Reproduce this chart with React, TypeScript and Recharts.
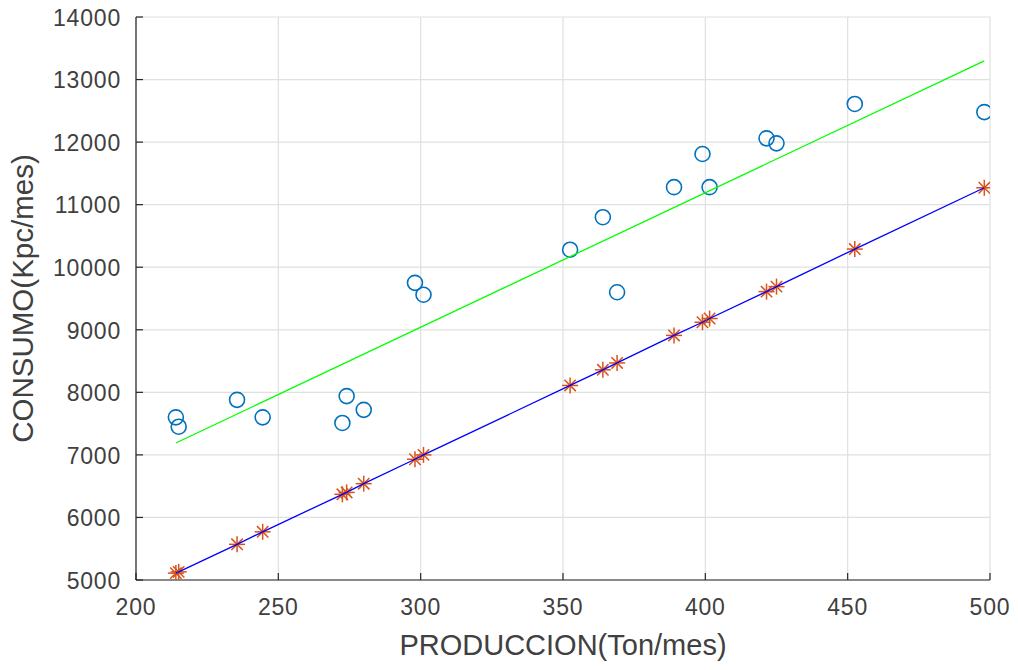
import React from 'react';
import { ScatterChart, Scatter, XAxis, YAxis, CartesianGrid } from 'recharts';

// produccion (Ton/mes) de cada observacion
const produccion = [214, 215, 235.5, 244.5, 272.5, 274, 280, 298, 301, 352.5, 364, 369, 389, 399, 401.5, 421.5, 425, 452.5, 498];
// consumo medido (circulos)
const consumo = [7600, 7450, 7880, 7600, 7510, 7940, 7720, 9750, 9560, 10280, 10800, 9600, 11280, 11810, 11280, 12060, 11980, 12610, 12480];
// consumo estimado (asteriscos, sobre la linea azul)
const consumoEstimado = [5110, 5130, 5570, 5770, 6370, 6400, 6540, 6930, 7000, 8110, 8360, 8470, 8910, 9120, 9180, 9610, 9690, 10290, 11270];
// recta verde (extremos)
const rectaX = [214, 498];
const rectaY = [7190, 13300];

const xTicks = [200, 250, 300, 350, 400, 450, 500];
const yTicks = [5000, 6000, 7000, 8000, 9000, 10000, 11000, 12000, 13000, 14000];

const medidos = produccion.map((x, i) => ({ x, y: consumo[i] }));
const estimados = produccion.map((x, i) => ({ x, y: consumoEstimado[i] }));
const recta = rectaX.map((x, i) => ({ x, y: rectaY[i] }));

const AXIS = '#262626';
const TEXT = '#404040';
const FONT = 'Liberation Sans, Arial, sans-serif';
const TICK_LEN = 7;
const X_MARGIN = 19;
const Y_MARGIN = 15;

const BottomTick = (props: any) => {
  const { x, y, payload } = props;
  return (
    <g>
      <line x1={x} x2={x} y1={y - X_MARGIN} y2={y - X_MARGIN - TICK_LEN} stroke={AXIS} strokeWidth={1.2} />
      <text x={x} y={y} dy="0.71em" textAnchor="middle" fill={TEXT} fontSize={23} fontFamily={FONT} letterSpacing={0.8}>
        {payload.value}
      </text>
    </g>
  );
};

const LeftTick = (props: any) => {
  const { x, y, payload } = props;
  return (
    <g>
      <line x1={x + Y_MARGIN} x2={x + Y_MARGIN + TICK_LEN} y1={y} y2={y} stroke={AXIS} strokeWidth={1.2} />
      <text x={x} y={y} dy="0.38em" textAnchor="end" fill={TEXT} fontSize={23} fontFamily={FONT} letterSpacing={0.8}>
        {payload.value}
      </text>
    </g>
  );
};

const TopTick = (props: any) => {
  const { x, y } = props;
  return <line x1={x} x2={x} y1={y} y2={y + TICK_LEN} stroke={AXIS} strokeWidth={1.2} />;
};

const RightTick = (props: any) => {
  const { x, y } = props;
  return <line x1={x} x2={x - TICK_LEN} y1={y} y2={y} stroke={AXIS} strokeWidth={1.2} />;
};

const Circulo = (props: any) => {
  const { cx, cy } = props;
  return <circle cx={cx} cy={cy} r={7.5} fill="none" stroke="#0072BD" strokeWidth={1.6} />;
};

const Asterisco = (props: any) => {
  const { cx, cy } = props;
  const r = 8;
  const d = 5.7;
  return (
    <g stroke="#D95319" strokeWidth={1.5}>
      <line x1={cx - r} x2={cx + r} y1={cy} y2={cy} />
      <line x1={cx} x2={cx} y1={cy - r} y2={cy + r} />
      <line x1={cx - d} x2={cx + d} y1={cy - d} y2={cy + d} />
      <line x1={cx - d} x2={cx + d} y1={cy + d} y2={cy - d} />
    </g>
  );
};

const Nada = () => <g />;

export default function App() {
  return (
    <div style={{ position: 'absolute', left: 0, top: 0, width: 1018, height: 670, background: '#fff' }}>
      <ScatterChart width={1018} height={670} margin={{ top: 17, right: 28, bottom: 10, left: 0 }}>
        <CartesianGrid stroke="#e0e0e0" strokeWidth={1.2} />
        <XAxis
          type="number"
          dataKey="x"
          domain={[200, 500]}
          ticks={xTicks}
          height={80}
          tickSize={0}
          tickMargin={X_MARGIN}
          tickLine={false}
          axisLine={{ stroke: AXIS, strokeWidth: 1.2 }}
          tick={BottomTick}
          interval={0}
          allowDataOverflow
          label={{
            value: 'PRODUCCION(Ton/mes)',
            position: 'insideBottom',
            offset: 5,
            style: { fontSize: 29, fill: TEXT, fontFamily: FONT },
          }}
        />
        <XAxis
          xAxisId="top"
          orientation="top"
          type="number"
          dataKey="x"
          domain={[200, 500]}
          ticks={xTicks}
          height={0}
          tickSize={0}
          tickMargin={0}
          tickLine={false}
          axisLine={{ stroke: AXIS, strokeWidth: 1.2 }}
          tick={TopTick}
          interval={0}
          allowDataOverflow
        />
        <YAxis
          type="number"
          dataKey="y"
          domain={[5000, 14000]}
          ticks={yTicks}
          width={136}
          tickSize={0}
          tickMargin={Y_MARGIN}
          tickLine={false}
          axisLine={{ stroke: AXIS, strokeWidth: 1.2 }}
          tick={LeftTick}
          interval={0}
          allowDataOverflow
          label={{
            value: 'CONSUMO(Kpc/mes)',
            angle: -90,
            position: 'insideLeft',
            offset: 23,
            style: { fontSize: 29.5, fill: TEXT, fontFamily: FONT, textAnchor: 'middle' },
          }}
        />
        <YAxis
          yAxisId="right"
          orientation="right"
          type="number"
          dataKey="y"
          domain={[5000, 14000]}
          ticks={yTicks}
          width={0}
          tickSize={0}
          tickMargin={0}
          tickLine={false}
          axisLine={{ stroke: AXIS, strokeWidth: 1.2 }}
          tick={RightTick}
          interval={0}
          allowDataOverflow
        />
        <Scatter data={medidos} shape={Circulo} isAnimationActive={false} />
        <Scatter data={estimados} shape={Asterisco} isAnimationActive={false} />
        <Scatter data={recta} shape={Nada} line={{ stroke: '#00FF00', strokeWidth: 1.3 }} isAnimationActive={false} />
        <Scatter data={estimados} shape={Nada} line={{ stroke: '#0000FF', strokeWidth: 1.3 }} isAnimationActive={false} />
      </ScatterChart>
    </div>
  );
}
